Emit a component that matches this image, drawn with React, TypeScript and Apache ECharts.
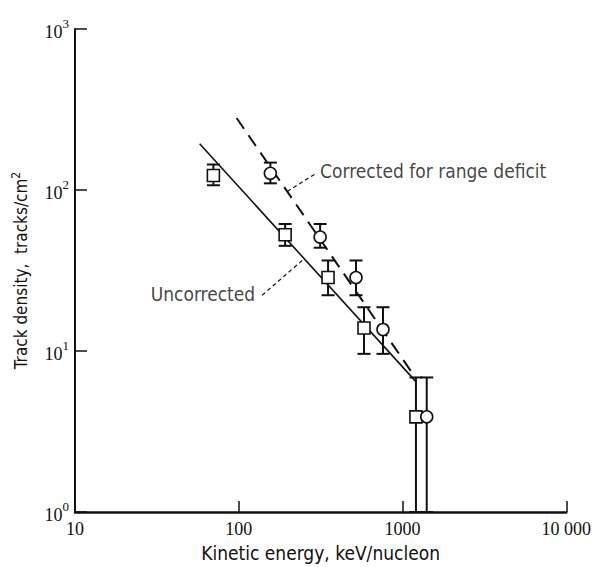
import React, { useEffect, useRef } from "react";
import * as echarts from "echarts";

// Uncorrected (squares)
const energyUncorrected = [70, 192, 351, 582, 1208];
const densityUncorrected = [123, 52.7, 28.6, 13.9, 3.9];
const errHighUncorrected = [144, 61.5, 36.5, 18.7, 6.85];
const errLowUncorrected = [107, 45, 22.2, 9.6, 1];

// Corrected for range deficit (circles)
const energyCorrected = [156, 314, 520, 760, 1406];
const densityCorrected = [127, 51, 28.6, 13.6, 3.9];
const errHighCorrected = [148, 61.5, 36.5, 18.7, 6.85];
const errLowCorrected = [110, 43.8, 22.2, 9.6, 1];

// Fitted lines
const uncorrectedFitX = [57.7, 1200];
const uncorrectedFitY = [194, 6.5];
const correctedFitX = [97, 1180];
const correctedFitY = [280, 7];

// Annotations
const correctedLeaderX = [198, 297];
const correctedLeaderY = [98, 127];
const correctedLabelPos = [314, 132];
const uncorrectedLeaderX = [139, 244];
const uncorrectedLeaderY = [22.2, 36.5];
const uncorrectedLabelPos = [126, 22.5];

const xTickLabels: Record<number, string> = { 10: "10", 100: "100", 1000: "1000", 10000: "10 000" };

const SANS = "'DejaVu Sans Condensed', 'Liberation Sans Narrow', 'Liberation Sans', sans-serif";
const SERIF = "'Liberation Serif', 'DejaVu Serif', serif";

const zip = (a: number[], b: number[]) => a.map((v, i) => [v, b[i]]);

export default function App() {
  const ref = useRef<HTMLDivElement>(null);
  useEffect(() => {
    if (!ref.current) return;
    const chart = echarts.init(ref.current, undefined, { renderer: "svg" });
    const errRender = (params: any, api: any) => {
      const x = api.value(0);
      const lo = api.value(1);
      const hi = api.value(2);
      const pTop = api.coord([x, hi]);
      const pBot = api.coord([x, lo]);
      const hw = 6.5;
      const style = { stroke: "#111", lineWidth: 2 };
      return {
        type: "group",
        children: [
          { type: "line", shape: { x1: pTop[0], y1: pTop[1], x2: pBot[0], y2: pBot[1] }, style },
          { type: "line", shape: { x1: pTop[0] - hw, y1: pTop[1], x2: pTop[0] + hw, y2: pTop[1] }, style },
          { type: "line", shape: { x1: pBot[0] - hw, y1: pBot[1], x2: pBot[0] + hw, y2: pBot[1] }, style },
        ],
      };
    };
    chart.setOption({
      animation: false,
      backgroundColor: "#fff",
      grid: { left: 75, right: 26, top: 29, bottom: 50 },
      xAxis: {
        type: "log",
        logBase: 10,
        min: 10,
        max: 10000,
        name: "Kinetic energy, keV/nucleon",
        nameLocation: "middle",
        nameGap: 31,
        nameTextStyle: { fontFamily: SANS, fontSize: 19, color: "#111" },
        axisLine: { lineStyle: { color: "#111", width: 2.5 } },
        axisTick: { inside: true, length: 11, lineStyle: { color: "#111", width: 1.5 } },
        axisLabel: {
          margin: 8,
          fontFamily: SERIF,
          fontSize: 18,
          color: "#111",
          formatter: (v: number) => xTickLabels[Math.round(v)] ?? String(v),
        },
        splitLine: { show: false },
      },
      yAxis: {
        type: "log",
        logBase: 10,
        min: 1,
        max: 1000,
        name: "Track density,  tracks/cm{s|2}",
        nameLocation: "middle",
        nameGap: 43,
        nameTextStyle: {
          fontFamily: SANS,
          fontSize: 17,
          color: "#111",
          rich: { s: { fontFamily: SANS, fontSize: 12, color: "#111", verticalAlign: "top", lineHeight: 22 } },
        },
        axisLine: { lineStyle: { color: "#111", width: 2 } },
        axisTick: { inside: true, length: 12, lineStyle: { color: "#111", width: 1.5 } },
        axisLabel: {
          margin: 6,
          formatter: (v: number) => `{b|10}{s|${Math.round(Math.log10(v))}}`,
          rich: {
            b: { fontFamily: SERIF, fontSize: 18, color: "#111", lineHeight: 24, verticalAlign: "bottom" },
            s: { fontFamily: SERIF, fontSize: 13, color: "#111", lineHeight: 24, verticalAlign: "top" },
          },
        },
        splitLine: { show: false },
      },
      series: [
        {
          name: "Uncorrected fit",
          type: "line",
          data: zip(uncorrectedFitX, uncorrectedFitY),
          showSymbol: false,
          lineStyle: { color: "#111", width: 1.6 },
          z: 1,
        },
        {
          name: "Corrected fit",
          type: "line",
          data: zip(correctedFitX, correctedFitY),
          showSymbol: false,
          lineStyle: { color: "#111", width: 2, type: [13, 8] },
          z: 1,
        },
        {
          name: "Corrected leader",
          type: "line",
          data: zip(correctedLeaderX, correctedLeaderY),
          showSymbol: false,
          lineStyle: { color: "#111", width: 1.2, type: [4, 3] },
          z: 1,
        },
        {
          name: "Uncorrected leader",
          type: "line",
          data: zip(uncorrectedLeaderX, uncorrectedLeaderY),
          showSymbol: false,
          lineStyle: { color: "#111", width: 1.2, type: [4, 3] },
          z: 1,
        },
        {
          name: "Uncorrected error",
          type: "custom",
          renderItem: errRender,
          data: energyUncorrected.map((x, i) => [x, errLowUncorrected[i], errHighUncorrected[i]]),
          encode: { x: 0, y: [1, 2] },
          z: 2,
        },
        {
          name: "Corrected error",
          type: "custom",
          renderItem: errRender,
          data: energyCorrected.map((x, i) => [x, errLowCorrected[i], errHighCorrected[i]]),
          encode: { x: 0, y: [1, 2] },
          z: 2,
        },
        {
          name: "Uncorrected",
          type: "scatter",
          symbol: "rect",
          symbolSize: 12,
          data: zip(energyUncorrected, densityUncorrected),
          itemStyle: { color: "#fff", borderColor: "#111", borderWidth: 1.6, opacity: 1 },
          z: 3,
        },
        {
          name: "Corrected",
          type: "scatter",
          symbol: "circle",
          symbolSize: 12,
          data: zip(energyCorrected, densityCorrected),
          itemStyle: { color: "#fff", borderColor: "#111", borderWidth: 1.6, opacity: 1 },
          z: 3,
        },
        {
          name: "Labels",
          type: "scatter",
          symbolSize: 0,
          silent: true,
          data: [
            {
              value: correctedLabelPos,
              label: { show: true, position: "right", distance: 0, formatter: "Corrected for range deficit" },
            },
            {
              value: uncorrectedLabelPos,
              label: { show: true, position: "left", distance: 0, formatter: "Uncorrected" },
            },
          ],
          label: { fontFamily: SANS, fontSize: 19, color: "#111" },
          z: 4,
        },
      ],
    });
    return () => chart.dispose();
  }, []);
  return <div ref={ref} style={{ width: 594, height: 567, position: "absolute", left: 0, top: 0 }} />;
}
